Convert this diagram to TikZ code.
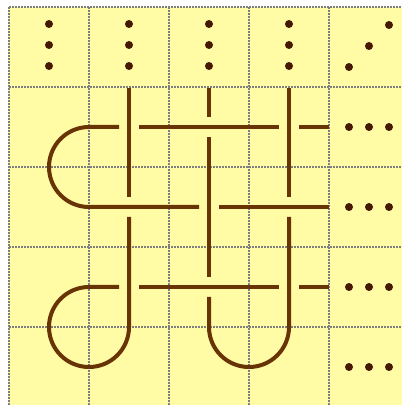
\documentclass[tikz,border=0pt]{standalone}
\definecolor{bgyellow}{RGB}{255,252,165}
\definecolor{gridgray}{RGB}{125,125,130}
\definecolor{knotbrown}{RGB}{105,52,5}
\definecolor{dotbrown}{RGB}{70,25,5}
\tikzset{
  gridline/.style={gridgray, line width=1.6pt, dash pattern=on 1.6pt off 1.4pt},
  strand/.style={knotbrown, line width=4pt, line cap=butt},
  knotdot/.style={fill=dotbrown, draw=none},
}
\begin{document}
\begin{tikzpicture}[x=1pt,y=1pt]
\useasboundingbox (0,0) rectangle (402,405);
\fill[white] (0,0) rectangle (402,405);
\fill[bgyellow] (8,0) rectangle (402,398);
% grid
\foreach \gx in {9,89,169,249,329} \draw[gridline] (\gx,398) -- (\gx,0);
\foreach \gy in {398,318,238,158,78} \draw[gridline] (9,\gy) -- (402,\gy);
% dots top row
\foreach \cx in {49,129,209,289}
  \foreach \cy in {381,360,339}
    \fill[knotdot] (\cx,\cy) circle (4);
% diagonal dots top right
\foreach \cx/\cy in {389/380, 369/359, 349/338}
  \fill[knotdot] (\cx,\cy) circle (4);
% dots right column
\foreach \cy in {278,198,118,38}
  \foreach \cx in {349,369,389}
    \fill[knotdot] (\cx,\cy) circle (4);
% strand through x=129 and bottom-left loop
\draw[strand] (129,317) -- (129,208);
\draw[strand] (129,188) -- (129,78) arc[start angle=0, end angle=-270, radius=40] -- (119,118);
\draw[strand] (139,118) -- (279,118);
\draw[strand] (299,118) -- (329,118);
% strand through x=209, bottom-right U, x=289
\draw[strand] (209,317) -- (209,288);
\draw[strand] (209,268) -- (209,128);
\draw[strand] (209,108) -- (209,78) arc[start angle=180, end angle=360, radius=40] -- (289,188);
\draw[strand] (289,208) -- (289,317);
% horizontal strand y=278, top-left loop, y=198
\draw[strand] (329,278) -- (299,278);
\draw[strand] (279,278) -- (139,278);
\draw[strand] (119,278) -- (89,278) arc[start angle=90, end angle=270, radius=40] -- (199,198);
\draw[strand] (219,198) -- (329,198);
\end{tikzpicture}
\end{document}
